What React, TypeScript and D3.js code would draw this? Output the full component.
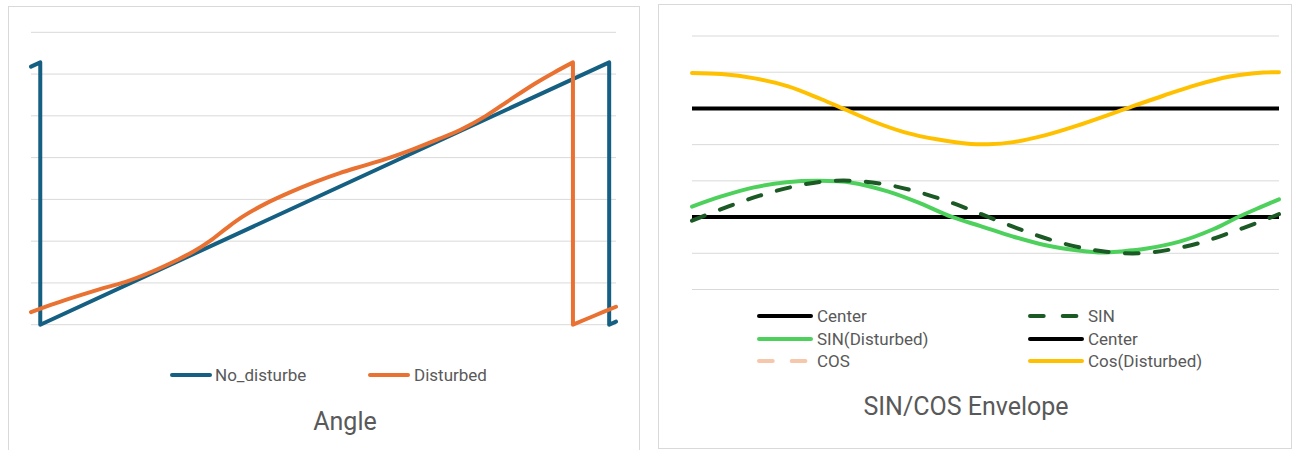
import React from 'react';
import * as d3 from 'd3';

// ---------- Angle chart (sample index vs. angle in radians) ----------
const angleTicks = [0, 1, 2, 3, 4, 5, 6, 7];
const noDisturbT = [0, 5.7, 5.7, 355.8, 355.8, 360];
const noDisturbV = [6.18, 6.28, 0, 6.28, 0, 0.075];
const disturbedT = [0, 15, 30, 45, 60, 75, 90, 100, 110, 120, 130, 145, 160, 175, 190, 205, 220, 235, 250, 265, 280, 295, 310, 322, 333.5, 333.5, 347, 360];
const disturbedV = [0.3, 0.51, 0.7, 0.88, 1.05, 1.28, 1.55, 1.75, 2.0, 2.3, 2.58, 2.91, 3.18, 3.42, 3.63, 3.81, 3.99, 4.2, 4.43, 4.68, 5.0, 5.39, 5.77, 6.04, 6.28, 0, 0.22, 0.43];

// ---------- SIN/COS envelope chart ----------
const envelopeTicks = [-2, -1, 0, 1, 2, 3, 4, 5];
const centerSinT = [0, 360];
const centerSinV = [0, 0];
const centerCosT = [0, 360];
const centerCosV = [3, 3];
const sinT = [0, 22, 41.5, 61, 80, 100, 120, 139.5, 159, 177.5, 196, 214.5, 235, 254, 274, 293, 312.5, 332, 350.5, 360];
const sinV = [-0.1, 0.29, 0.59, 0.83, 0.98, 1.0, 0.89, 0.68, 0.4, 0.08, -0.25, -0.55, -0.81, -0.96, -1.0, -0.9, -0.7, -0.4, -0.09, 0.08];
const sinDisturbedT = [0, 18, 38, 58, 78, 98, 120, 140, 159, 177, 197, 217, 238, 252, 263, 279, 299, 320, 334, 348, 360];
const sinDisturbedV = [0.29, 0.57, 0.82, 0.96, 1.0, 0.95, 0.71, 0.38, 0.01, -0.25, -0.54, -0.78, -0.93, -0.98, -0.95, -0.87, -0.68, -0.33, -0.02, 0.26, 0.49];
const cosDisturbedT = [0, 18, 38.5, 59, 79, 93.5, 110, 130.5, 151, 171, 181.5, 197, 217.5, 238, 258.5, 268.5, 289, 309.5, 330, 350.5, 360];
const cosDisturbedV = [3.98, 3.95, 3.83, 3.61, 3.26, 2.98, 2.66, 2.34, 2.14, 2.02, 2.01, 2.07, 2.27, 2.55, 2.87, 3.03, 3.35, 3.65, 3.88, 3.99, 4.0];

const FONT = 'Roboto, "Open Sans", Arial, sans-serif';
const TEXT = '#595959';
const GRID = '#d9d9d9';

const C_BLUE = '#156082';
const C_ORANGE = '#E97132';
const C_BLACK = '#000000';
const C_DKGREEN = '#1B5A24';
const C_GREEN = '#4ED15C';
const C_PEACH = '#F6C7AA';
const C_YELLOW = '#FFC000';

// Builds a path where repeated sample indices mark a wrap (vertical jump).
function wrappedPath(
  ts: number[],
  vs: number[],
  x: (v: number) => number,
  y: (v: number) => number,
  curve: d3.CurveFactory
): string {
  const runs: [number, number][][] = [];
  let cur: [number, number][] = [];
  ts.forEach((t, i) => {
    if (i > 0 && t === ts[i - 1]) {
      runs.push(cur);
      cur = [];
    }
    cur.push([x(t), y(vs[i])]);
  });
  runs.push(cur);
  const gen = d3.line<[number, number]>().curve(curve);
  return runs
    .map((r, i) => {
      const s = gen(r) || '';
      return i === 0 ? s : 'L' + s.slice(1);
    })
    .join('');
}

export default function App() {
  // Angle chart scales
  const ax = d3.scaleLinear().domain([0, 360]).range([31, 616]);
  const ay = d3.scaleLinear().domain([0, 7]).range([324.7, 32.3]);

  // Envelope chart scales
  const ex = d3.scaleLinear().domain([0, 360]).range([692, 1279]);
  const ey = d3.scaleLinear().domain([-2, 5]).range([289.5, 36]);

  const smooth = d3.curveCatmullRom.alpha(0.5);

  const lineProps = {
    fill: 'none',
    strokeWidth: 4,
    strokeLinecap: 'round' as const,
    strokeLinejoin: 'round' as const,
  };

  const envLegend = [
    { name: 'Center', color: C_BLACK, dash: undefined as string | undefined },
    { name: 'SIN', color: C_DKGREEN, dash: '13.7 19' },
    { name: 'SIN(Disturbed)', color: C_GREEN, dash: undefined },
    { name: 'Center', color: C_BLACK, dash: undefined },
    { name: 'COS', color: C_PEACH, dash: '13.7 19' },
    { name: 'Cos(Disturbed)', color: C_YELLOW, dash: undefined },
  ];
  const legendRows = [316, 339, 361];
  const legendCols = [759, 1030];

  return (
    <svg
      width={1294}
      height={450}
      style={{ position: 'absolute', left: 0, top: 0, background: '#fff' }}
      fontFamily={FONT}
    >
      <rect x={0} y={0} width={1294} height={450} fill="#fff" />

      {/* ---------- Angle panel ---------- */}
      <rect x={8.5} y={6.5} width={631} height={460} fill="#fff" stroke={GRID} strokeWidth={1} />
      {angleTicks.map((v) => (
        <line key={'ag' + v} x1={ax(0)} x2={ax(360)} y1={ay(v)} y2={ay(v)} stroke={GRID} strokeWidth={1} />
      ))}
      <path d={wrappedPath(noDisturbT, noDisturbV, ax, ay, d3.curveLinear)} stroke={C_BLUE} {...lineProps} />
      <path d={wrappedPath(disturbedT, disturbedV, ax, ay, smooth)} stroke={C_ORANGE} {...lineProps} />

      <line x1={172} x2={210} y1={375} y2={375} stroke={C_BLUE} {...lineProps} />
      <text x={215} y={381} fontSize={17} fill={TEXT}>No_disturbe</text>
      <line x1={370} x2={408} y1={375} y2={375} stroke={C_ORANGE} {...lineProps} />
      <text x={414} y={381} fontSize={17} fill={TEXT}>Disturbed</text>

      <text x={345} y={430} fontSize={25} fill={TEXT} textAnchor="middle">Angle</text>

      {/* ---------- SIN/COS Envelope panel ---------- */}
      <rect x={658.5} y={4.5} width={633} height={444} fill="#fff" stroke={GRID} strokeWidth={1} />
      {envelopeTicks.map((v) => (
        <line key={'eg' + v} x1={ex(0)} x2={ex(360)} y1={ey(v)} y2={ey(v)} stroke={GRID} strokeWidth={1} />
      ))}
      <path d={wrappedPath(centerSinT, centerSinV, ex, ey, d3.curveLinear)} stroke={C_BLACK} {...lineProps} strokeLinecap="butt" />
      <path d={wrappedPath(sinDisturbedT, sinDisturbedV, ex, ey, smooth)} stroke={C_GREEN} {...lineProps} />
      <path d={wrappedPath(sinT, sinV, ex, ey, smooth)} stroke={C_DKGREEN} {...lineProps} strokeDasharray="13.7 16.3" />
      <path d={wrappedPath(centerCosT, centerCosV, ex, ey, d3.curveLinear)} stroke={C_BLACK} {...lineProps} strokeLinecap="butt" />
      <path d={wrappedPath(cosDisturbedT, cosDisturbedV, ex, ey, smooth)} stroke={C_YELLOW} {...lineProps} />

      {envLegend.map((item, i) => {
        const row = legendRows[Math.floor(i / 2)];
        const col = legendCols[i % 2];
        return (
          <g key={'el' + i}>
            <line x1={col} x2={col + 52} y1={row} y2={row} stroke={item.color} {...lineProps} strokeDasharray={item.dash} />
            <text x={col + 58} y={row + 6} fontSize={17} fill={TEXT}>{item.name}</text>
          </g>
        );
      })}

      <text x={966} y={415} fontSize={25} fill={TEXT} textAnchor="middle">SIN/COS Envelope</text>
    </svg>
  );
}
